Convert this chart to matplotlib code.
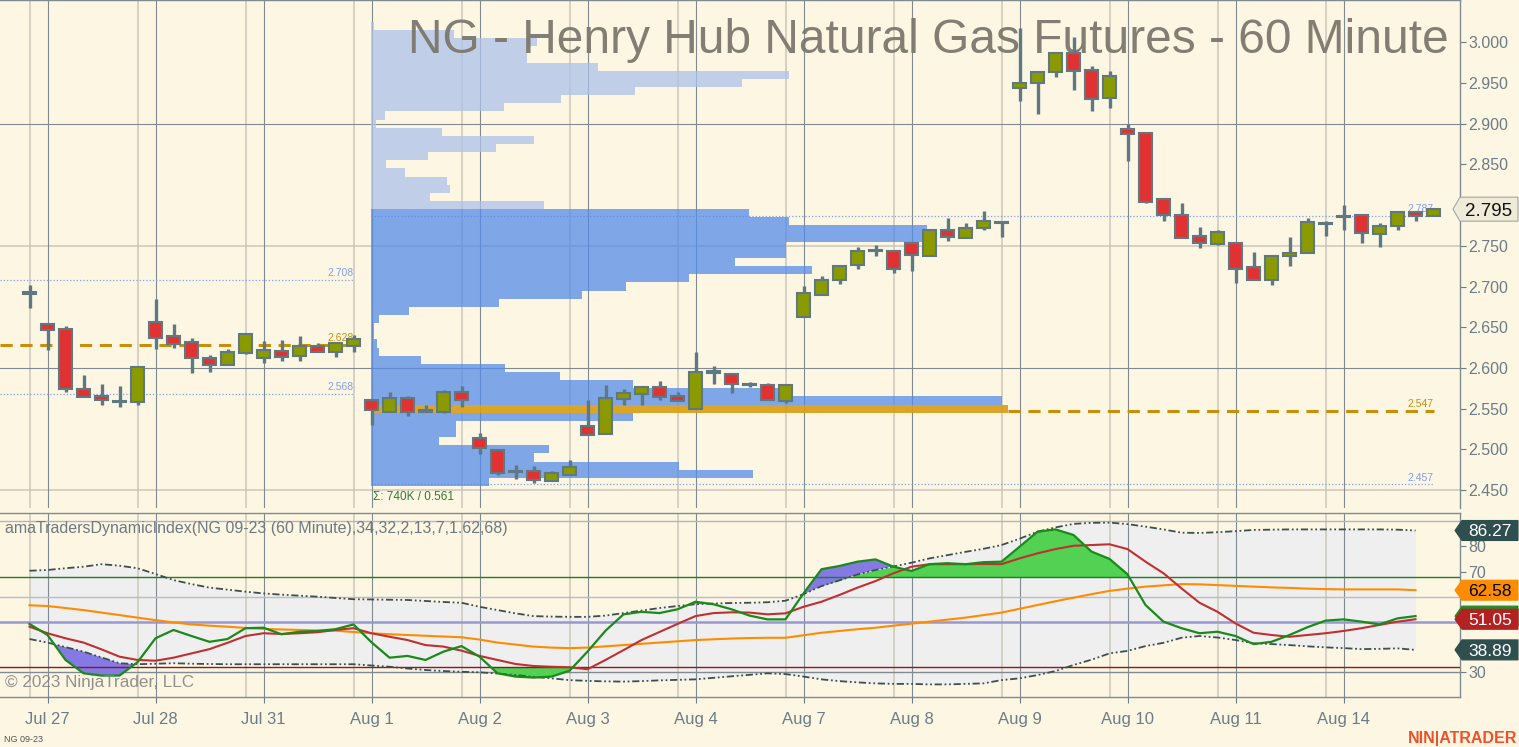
import matplotlib
matplotlib.use("Agg")
import matplotlib.pyplot as plt
import matplotlib.colors as mcolors
from matplotlib.patches import Polygon
import numpy as np

plt.rcParams['font.family'] = ['Liberation Sans', 'DejaVu Sans']

# ---------------- data ----------------
day_labels = ['Jul 27', 'Jul 28', 'Jul 31', 'Aug 1', 'Aug 2', 'Aug 3', 'Aug 4',
              'Aug 7', 'Aug 8', 'Aug 9', 'Aug 10', 'Aug 11', 'Aug 14']
day_first_bar = [1, 7, 13, 19, 25, 31, 37, 43, 49, 55, 61, 67, 73]

opens = [2.692, 2.654, 2.648, 2.574, 2.566, 2.559, 2.558, 2.657, 2.639, 2.632,
         2.612, 2.604, 2.618, 2.612, 2.621, 2.615, 2.627, 2.619, 2.627, 2.561,
         2.546, 2.563, 2.547, 2.546, 2.570, 2.514, 2.499, 2.473, 2.473, 2.461,
         2.468, 2.529, 2.519, 2.562, 2.568, 2.577, 2.565, 2.549, 2.595, 2.593,
         2.580, 2.579, 2.559, 2.662, 2.690, 2.708, 2.726, 2.744, 2.744, 2.753,
         2.738, 2.769, 2.760, 2.772, 2.779, 2.944, 2.950, 2.963, 2.987, 2.966,
         2.931, 2.894, 2.888, 2.807, 2.788, 2.762, 2.752, 2.753, 2.724, 2.708,
         2.737, 2.741, 2.777, 2.786, 2.788, 2.765, 2.774, 2.791, 2.787]
highs = [2.702, 2.654, 2.651, 2.591, 2.580, 2.578, 2.601, 2.685, 2.654, 2.637,
         2.616, 2.623, 2.643, 2.633, 2.634, 2.639, 2.631, 2.630, 2.641, 2.561,
         2.571, 2.566, 2.554, 2.573, 2.578, 2.520, 2.499, 2.481, 2.480, 2.473,
         2.487, 2.561, 2.579, 2.574, 2.576, 2.584, 2.570, 2.619, 2.602, 2.593,
         2.583, 2.582, 2.579, 2.701, 2.713, 2.725, 2.749, 2.751, 2.744, 2.753,
         2.769, 2.784, 2.778, 2.793, 2.779, 3.017, 2.964, 2.987, 3.007, 2.971,
         2.965, 2.900, 2.890, 2.807, 2.803, 2.773, 2.770, 2.753, 2.742, 2.738,
         2.761, 2.784, 2.780, 2.800, 2.788, 2.778, 2.791, 2.791, 2.797]
lows = [2.674, 2.622, 2.570, 2.564, 2.555, 2.552, 2.554, 2.623, 2.625, 2.594,
        2.595, 2.604, 2.617, 2.606, 2.609, 2.609, 2.619, 2.614, 2.619, 2.530,
        2.546, 2.541, 2.547, 2.545, 2.552, 2.494, 2.469, 2.464, 2.458, 2.461,
        2.468, 2.518, 2.519, 2.554, 2.554, 2.561, 2.559, 2.549, 2.580, 2.569,
        2.576, 2.560, 2.557, 2.662, 2.690, 2.703, 2.722, 2.737, 2.717, 2.719,
        2.737, 2.756, 2.760, 2.770, 2.761, 2.928, 2.912, 2.957, 2.941, 2.916,
        2.919, 2.854, 2.802, 2.780, 2.759, 2.747, 2.751, 2.704, 2.708, 2.702,
        2.725, 2.741, 2.762, 2.770, 2.754, 2.749, 2.769, 2.781, 2.787]
closes = [2.692, 2.646, 2.574, 2.564, 2.560, 2.559, 2.601, 2.637, 2.629, 2.612,
          2.604, 2.620, 2.642, 2.622, 2.614, 2.627, 2.619, 2.630, 2.635, 2.548,
          2.563, 2.546, 2.547, 2.570, 2.560, 2.501, 2.471, 2.473, 2.462, 2.471,
          2.478, 2.518, 2.563, 2.569, 2.576, 2.564, 2.559, 2.595, 2.595, 2.580,
          2.580, 2.560, 2.579, 2.692, 2.708, 2.725, 2.743, 2.744, 2.722, 2.739,
          2.769, 2.761, 2.772, 2.780, 2.779, 2.950, 2.964, 2.987, 2.965, 2.930,
          2.958, 2.887, 2.804, 2.788, 2.760, 2.754, 2.767, 2.722, 2.708, 2.738,
          2.741, 2.779, 2.777, 2.786, 2.766, 2.774, 2.791, 2.787, 2.795]

# volume profile (Aug 1 onward), relative volume per 0.01 price row
profile_price = [3.02, 3.01, 3.00, 2.99, 2.98, 2.97, 2.96, 2.95, 2.94, 2.93,
                 2.92, 2.91, 2.90, 2.89, 2.88, 2.87, 2.86, 2.85, 2.84, 2.83,
                 2.82, 2.81, 2.80, 2.79, 2.78, 2.77, 2.76, 2.75, 2.74, 2.73,
                 2.72, 2.71, 2.70, 2.69, 2.68, 2.67, 2.66, 2.65, 2.64, 2.63,
                 2.62, 2.61, 2.60, 2.59, 2.58, 2.57, 2.56, 2.55, 2.54, 2.53,
                 2.52, 2.51, 2.50, 2.49, 2.48, 2.47, 2.46]
profile_vol = [0.5, 13.0, 26.1, 24.5, 24.5, 35.7, 65.6, 58.2, 41.5, 29.9,
               20.9, 2.2, 0.8, 11.2, 25.6, 19.7, 9.0, 2.4, 5.3, 11.9,
               12.4, 9.3, 27.2, 59.4, 65.6, 87.3, 87.3, 65.1, 65.1, 57.1,
               69.3, 50.0, 40.1, 33.2, 20.1, 6.0, 1.3, 0.5, 0.5, 0.9,
               1.3, 7.9, 21.1, 29.7, 41.2, 65.7, 99.0, 100.0, 41.2, 13.4,
               13.4, 10.7, 28.0, 25.6, 48.4, 59.9, 18.6]
poc_price = 2.55
va_high, va_low = 2.79, 2.46

prev_levels = {'vah': 2.708, 'poc': 2.628, 'val': 2.568}
cur_levels = {'vah': 2.787, 'poc': 2.547, 'val': 2.457}
last_price = 2.795

# Traders Dynamic Index (bars 0..77)
tdi_green = [49.2, 44.8, 34.9, 29.6, 28.7, 28.7, 34.0, 43.5, 46.8, 44.4,
             42.1, 43.2, 47.5, 47.7, 45.1, 46.1, 46.4, 47.1, 49.0, 41.9,
             35.8, 36.5, 34.9, 38.2, 40.4, 36.2, 29.6, 28.3, 27.9, 28.3,
             30.6, 38.2, 46.5, 53.0, 54.0, 53.5, 55.0, 58.0, 57.0, 55.0,
             52.5, 51.0, 51.0, 61.3, 70.9, 72.2, 73.9, 74.8, 71.9, 70.2,
             72.9, 73.3, 72.9, 73.7, 73.9, 79.8, 85.8, 86.7, 84.5, 77.9,
             75.0, 68.9, 56.7, 50.1, 47.5, 45.5, 46.1, 44.4, 41.2, 42.1,
             44.8, 47.9, 50.5, 51.0, 50.1, 49.0, 51.4, 52.3]
tdi_red = [48.1, 45.5, 43.5, 41.8, 39.1, 36.2, 34.9, 34.6, 35.8, 37.5,
           39.2, 41.7, 44.4, 45.5, 45.2, 45.5, 45.9, 46.8, 47.5, 45.5,
           44.1, 42.8, 40.8, 40.2, 38.6, 36.5, 34.9, 33.3, 32.5, 32.2,
           32.0, 31.2, 34.9, 38.8, 42.8, 46.0, 49.2, 52.3, 53.5, 53.8,
           53.7, 53.0, 53.4, 56.0, 58.0, 60.7, 63.6, 66.2, 69.3, 71.9,
           72.9, 72.9, 72.9, 73.0, 72.9, 75.2, 77.2, 78.9, 80.2, 80.5,
           80.8, 78.9, 73.9, 69.3, 63.3, 57.6, 54.0, 49.4, 45.7, 44.8,
           44.1, 44.8, 45.5, 46.4, 47.5, 48.8, 50.1, 51.05]
tdi_base = [56.6, 56.3, 55.5, 54.7, 53.7, 52.7, 51.7, 50.7, 49.8, 49.0,
            48.5, 48.1, 47.6, 47.2, 47.0, 46.8, 46.6, 46.5, 46.0, 45.5,
            45.1, 44.8, 44.5, 44.2, 43.9, 43.0, 41.8, 41.0, 40.2, 39.8,
            39.6, 39.8, 40.3, 40.8, 41.3, 41.8, 42.3, 42.8, 43.1, 43.4,
            43.6, 43.7, 43.7, 44.7, 45.7, 46.4, 47.1, 47.7, 48.5, 49.3,
            50.1, 50.9, 51.7, 52.7, 53.7, 55.2, 56.7, 58.2, 59.6, 61.0,
            62.3, 63.2, 64.0, 64.5, 65.0, 64.9, 64.6, 64.3, 64.0, 63.7,
            63.5, 63.2, 63.0, 62.9, 62.9, 62.9, 62.9, 62.58]
tdi_upper = [70.3, 70.6, 71.3, 71.9, 72.9, 72.3, 71.3, 69.0, 66.6, 65.0,
             63.6, 62.8, 62.0, 61.3, 60.8, 60.4, 60.0, 59.5, 59.0, 58.9,
             58.8, 58.7, 58.3, 57.9, 57.6, 56.0, 54.7, 53.4, 52.3, 52.1,
             52.0, 52.0, 52.5, 53.5, 54.5, 55.5, 56.3, 57.0, 57.3, 57.5,
             57.6, 57.8, 58.4, 61.0, 64.2, 66.5, 68.8, 70.6, 72.0, 73.5,
             75.2, 76.5, 77.8, 79.0, 80.5, 83.0, 85.8, 87.5, 88.9, 89.3,
             89.4, 88.8, 87.8, 86.7, 85.4, 85.3, 85.6, 86.0, 86.5, 86.6,
             86.7, 86.7, 86.7, 86.7, 86.7, 86.7, 86.6, 86.27]
tdi_lower = [43.2, 41.8, 40.0, 38.2, 35.9, 33.6, 33.2, 33.4, 33.6, 33.4,
             33.3, 33.2, 33.2, 33.2, 33.2, 33.2, 33.2, 33.2, 33.2, 32.7,
             32.2, 31.5, 30.9, 30.5, 30.2, 30.0, 29.5, 28.9, 28.2, 27.6,
             26.9, 26.6, 26.4, 26.3, 26.5, 26.8, 27.0, 27.2, 27.8, 28.4,
             29.0, 29.6, 29.3, 28.3, 27.2, 26.5, 26.0, 25.6, 25.4, 25.4,
             25.2, 25.2, 25.4, 25.6, 26.9, 27.6, 28.9, 30.5, 32.9, 35.0,
             37.5, 38.5, 40.4, 41.7, 43.7, 44.4, 43.8, 42.8, 41.5, 41.2,
             40.8, 40.3, 39.9, 39.6, 39.2, 39.3, 39.5, 38.89]
level_high, level_mid, level_low = 68, 50, 32

# ---------------- style ----------------
BG = '#fdf6e3'
UP, DOWN, EDGE = '#8a9a00', '#e03232', '#5e7982'
DARK_GRID, LIGHT_GRID = '#7f8b90', '#cbc7b8'
AXIS_TXT = '#6b7d87'
W, H = 1519, 747

fig = plt.figure(figsize=(W / 100, H / 100), dpi=100, facecolor=BG)
ax = fig.add_axes([0, (H - 508) / H, 1460 / W, 508 / H], facecolor=BG)
ax2 = fig.add_axes([0, (H - 697) / H, 1460 / W, 184 / H], facecolor=BG)

xmin, xmax = -29.5 / 18, (1460 - 29.5) / 18
for a in (ax, ax2):
    a.set_xlim(xmin, xmax)
    a.spines['left'].set_visible(False)
    for s in ('top', 'right', 'bottom'):
        a.spines[s].set_color(DARK_GRID)
        a.spines[s].set_linewidth(1)
    for b in day_first_bar:
        a.axvline(b, color=DARK_GRID, lw=0.8, zorder=1.2)
        a.axvline(b - 1, color=LIGHT_GRID, lw=1.1, zorder=1.1)
    a.yaxis.tick_right()
ax.spines['bottom'].set_visible(False)

# ---------------- price panel ----------------
ax.set_ylim(3.0 - (508 - 42.3) / 814, 3.0 + 42.3 / 814)
ax.set_xticks([])
ax.set_yticks(np.arange(2.45, 3.001, 0.05))
ax.yaxis.set_major_formatter(matplotlib.ticker.FormatStrFormatter('%.3f'))
ax.tick_params(axis='y', colors=AXIS_TXT, length=4, width=0.8, pad=2, labelsize=11.5)
for lbl in ax.get_yticklabels():
    if lbl.get_text() == '2.800':
        lbl.set_visible(False)
for p, col in ((2.9, DARK_GRID), (2.6, DARK_GRID), (2.75, LIGHT_GRID), (2.45, LIGHT_GRID)):
    ax.axhline(p, color=col, lw=1.1 if col == LIGHT_GRID else 0.8, zorder=1.1)

ax.text(1449 / W, 1 - 53 / H, 'NG - Henry Hub Natural Gas Futures - 60 Minute',
        transform=fig.transFigure, ha='right', va='baseline', fontsize=34.5,
        color='#7d786d', alpha=0.95, zorder=4)

# volume profile
prof_p = np.array(profile_price)
prof_v = np.array(profile_vol)
prof_left, prof_len = 18.97, 35.39
pcols = []
for p in prof_p:
    if abs(p - poc_price) < 1e-6:
        pcols.append(mcolors.to_rgba('#d89d13', 0.9))
    elif va_low - 1e-6 <= p <= va_high + 1e-6:
        pcols.append(mcolors.to_rgba('#558be9', 0.75))
    else:
        pcols.append(mcolors.to_rgba('#acc3e9', 0.75))
ax.barh(prof_p, prof_v / 100 * prof_len, left=prof_left, height=0.01,
        color=pcols, linewidth=0, zorder=2)

# previous session levels
LEVEL_BLUE, LEVEL_GOLD = '#7f9fef', '#c8900a'
ax.hlines([prev_levels['vah'], prev_levels['val']], xmin, 18, colors=LEVEL_BLUE,
          lw=0.9, linestyles=':', zorder=1.5)
ax.hlines(prev_levels['poc'], xmin, 18.36, colors=LEVEL_GOLD, lw=2.2,
          linestyles=(0, (4, 2.5)), zorder=3)
for k in ('vah', 'poc', 'val'):
    ax.text(18, prev_levels[k] + 0.002, f"{prev_levels[k]:.3f}", ha='right', va='bottom',
            fontsize=7.5, color=LEVEL_GOLD if k == 'poc' else LEVEL_BLUE, zorder=3)

end_x = prof_left + prof_len
ax.hlines([cur_levels['vah'], cur_levels['val']], prof_left, 78, colors=LEVEL_BLUE,
          lw=0.9, linestyles=':', zorder=1.5)
ax.hlines(cur_levels['poc'], end_x, 78, colors=LEVEL_GOLD, lw=2.2,
          linestyles=(0, (4, 2.5)), zorder=3)
for k in ('vah', 'poc', 'val'):
    ax.text(78, cur_levels[k] + 0.002, f"{cur_levels[k]:.3f}", ha='right', va='bottom',
            fontsize=7.5, color=LEVEL_GOLD if k == 'poc' else LEVEL_BLUE, zorder=1.6)
ax.text(prof_left + 0.1, 2.4485, 'Σ: 740K / 0.561', ha='left', va='top', fontsize=8.5,
        color='#2e7d32', zorder=3)

# candles
o, hi, lo, c = map(np.array, (opens, highs, lows, closes))
idx = np.arange(len(o))
up = c >= o
body_h = np.maximum(np.abs(c - o), 0.0016)
body_bottom = (o + c) / 2 - body_h / 2
ax.vlines(idx, lo, hi, color=EDGE, lw=2.4, zorder=5)
ax.bar(idx, body_h, bottom=body_bottom, width=0.72, color=np.where(up, UP, DOWN),
       edgecolor=EDGE, linewidth=1.5, zorder=6)

# ---------------- TDI panel ----------------
ax2.set_ylim(30 - 24.7 / 2.52, 30 + (672.3 - 513) / 2.52)
ax2.set_yticks([30, 40, 50, 60, 70, 80])
ax2.set_yticklabels(['30', '', '', '', '70', '80'])  # 40-60 sit under the value tags
ax2.tick_params(axis='y', colors=AXIS_TXT, length=4, width=0.8, pad=2, labelsize=11.5)
ax2.set_xticks(day_first_bar)
ax2.set_xticklabels(day_labels)
ax2.tick_params(axis='x', colors=AXIS_TXT, length=4, width=0.8, pad=7, labelsize=12)
for v, col in ((90, '#b0b6be'), (60, '#b8bcc8'), (30, DARK_GRID)):
    ax2.axhline(v, color=col, lw=1, zorder=2)

g = np.array(tdi_green)
r = np.array(tdi_red)
base = np.array(tdi_base)
upr = np.array(tdi_upper)
lwr = np.array(tdi_lower)
xi = np.arange(len(g))

ax2.fill_between(xi, lwr, upr, color='#efefef', lw=0, zorder=1)
ax2.fill_between(xi, level_high, np.minimum(g, upr), where=g > level_high,
                 interpolate=True, color='#52d152', lw=0, zorder=3)
ax2.fill_between(xi, upr, g, where=g > upr, interpolate=True, color='#8579e4', lw=0, zorder=3)
ax2.fill_between(xi, g, level_low, where=g < level_low, interpolate=True,
                 color='#52d152', lw=0, zorder=3)
ax2.fill_between(xi, lwr, g, where=g < lwr, interpolate=True, color='#8579e4', lw=0, zorder=3.1)

ax2.axhline(level_high, color='#1f7f1f', lw=1, zorder=3.5)
ax2.axhline(level_mid, color='#9a98d0', lw=1.8, zorder=3.5)
ax2.axhline(level_low, color='#8b1a1a', lw=1, zorder=3.5)

band_style = (0, (4, 1.5, 1, 1.5, 1, 1.5))
ax2.plot(xi, upr, color='#3c5050', lw=1.3, ls=band_style, zorder=4)
ax2.plot(xi, lwr, color='#3c5050', lw=1.3, ls=band_style, zorder=4)
ax2.plot(xi, base, color='#ff8c00', lw=1.5, zorder=4.5)
ax2.plot(xi, r, color='#c03030', lw=1.5, zorder=5)
ax2.plot(xi, g, color='#1a8a1a', lw=1.6, zorder=6)

fig.text(5 / W, 1 - 533 / H, 'amaTradersDynamicIndex(NG 09-23 (60 Minute),34,32,2,13,7,1.62,68)',
         ha='left', va='baseline', fontsize=11.5, color='#6e7a80')
fig.text(5 / W, 1 - 687 / H, '© 2023 NinjaTrader, LLC', ha='left', va='baseline',
         fontsize=12.3, color='#7f7f7f', alpha=0.85, zorder=10)
fig.text(4 / W, 1 - 742 / H, 'NG 09-23', ha='left', va='baseline', fontsize=6.5, color='#555555')
fig.text(1517 / W, 1 - 742.5 / H, 'NIN|ATRADER', ha='right', va='baseline', fontsize=11.5,
         fontweight='bold', color='#f0502a')

tag_z = [20]


def tag(axis, value, text, face, txtcolor, h=20, edge=None, fs=12.5, x0=1455):
    y = axis.transData.transform((0, value))[1]
    x1, x2 = x0 + 7, 1518
    pts = [(x0, y), (x1, y + h / 2), (x2, y + h / 2), (x2, y - h / 2), (x1, y - h / 2)]
    pts = [(px / W, py / H) for px, py in pts]
    fig.add_artist(Polygon(pts, closed=True, transform=fig.transFigure, facecolor=face,
                           edgecolor=edge or face, lw=0.8, zorder=tag_z[0]))
    if text:
        fig.text((x1 + x2) / 2 / W, y / H, text, ha='center', va='center_baseline',
                 color=txtcolor, fontsize=fs, zorder=tag_z[0] + 0.5)
    tag_z[0] += 1


tag(ax, last_price, f"{last_price:.3f}", '#f0ead8', '#111111', h=24, edge='#a0a8a8', fs=13.5, x0=1453)
tag(ax2, upr[-1], f"{upr[-1]:.2f}", '#2f4f4f', 'white')
tag(ax2, base[-1], f"{base[-1]:.2f}", '#ff8c00', 'black')
tag(ax2, g[-1], '', '#228b22', 'white')  # green tag sits behind the red one
tag(ax2, r[-1], f"{r[-1]:.2f}", '#b22222', 'white')
tag(ax2, lwr[-1], f"{lwr[-1]:.2f}", '#2f4f4f', 'white')

fig.savefig('out.png', dpi=100, facecolor=BG)
